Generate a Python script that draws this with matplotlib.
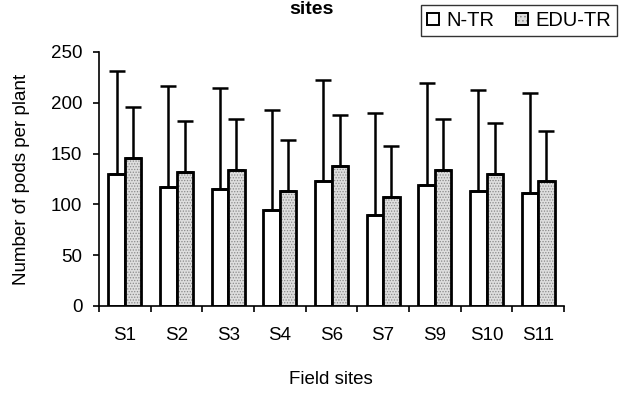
import numpy as np
import matplotlib
matplotlib.use("Agg")
import matplotlib.pyplot as plt
from matplotlib.patches import Patch
from matplotlib.legend_handler import HandlerTuple

# Pods per plant at each field site (mean and standard deviation)
sites = ["S1", "S2", "S3", "S4", "S6", "S7", "S9", "S10", "S11"]
ntr_mean = [130, 117, 115, 94, 123, 90, 119, 113, 111]
ntr_sd = [101, 100, 100, 99, 99, 100, 100, 100, 99]
edu_mean = [146, 132, 134, 113, 138, 107, 134, 130, 123]
edu_sd = [50, 50, 50, 50, 50, 50, 50, 50, 49]
series_names = ["N-TR", "EDU-TR"]
y_ticks = [0, 50, 100, 150, 200, 250]

plt.rcParams["font.family"] = ["Liberation Sans", "DejaVu Sans"]
plt.rcParams["hatch.linewidth"] = 0.6

W, H = 620, 394
fig = plt.figure(figsize=(W / 100, H / 100), dpi=100)
ax = fig.add_axes([99 / W, 1 - 306 / H, (564 - 99) / W, (306 - 52) / H])

n = len(sites)
centers = np.arange(n) + 0.5
bw = 0.32
stipple_face = "#dedede"
stipple_dots = "#8a8a8a"
edge_lw = 2.0

# N-TR: plain white bars
ax.bar(centers - bw / 2, ntr_mean, bw, color="white", edgecolor="black",
       linewidth=edge_lw, zorder=2)
# EDU-TR: stippled fill, then a black outline on top
ax.bar(centers + bw / 2, edu_mean, bw, color=stipple_face, edgecolor=stipple_dots,
       hatch="......", linewidth=0, zorder=2)
ax.bar(centers + bw / 2, edu_mean, bw, fill=False, edgecolor="black",
       linewidth=edge_lw, zorder=3)

# Upper error bars only
err_kw = dict(fmt="none", ecolor="black", elinewidth=1.8, capsize=5.5,
              capthick=1.8, zorder=4)
ax.errorbar(centers - bw / 2, ntr_mean, yerr=[np.zeros(n), ntr_sd], **err_kw)
ax.errorbar(centers + bw / 2, edu_mean, yerr=[np.zeros(n), edu_sd], **err_kw)

ax.set_xlim(0, n)
ax.set_ylim(0, 250)
ax.set_yticks(y_ticks)
ax.set_xticks(np.arange(n + 1))
ax.set_xticklabels([])
ax.set_xticks(centers, sites, minor=True)

for side in ("top", "right"):
    ax.spines[side].set_visible(False)
for side in ("left", "bottom"):
    ax.spines[side].set_linewidth(1.2)

ax.tick_params(axis="y", which="major", direction="out", length=4, width=1.2,
               pad=8, labelsize=13.5)
ax.tick_params(axis="x", which="major", direction="out", length=4.5, width=1.2)
ax.tick_params(axis="x", which="minor", length=0, pad=15, labelsize=13.5)

fig.text(22 / W, 1 - 179 / H, "Number of pods per plant", rotation=90,
         ha="center", va="center", fontsize=13.5)
fig.text(331 / W, 1 - 380 / H, "Field sites", ha="center", va="center",
         fontsize=13.5)
fig.text(311 / W, 1 - 10 / H, "sites", ha="center", va="center",
         fontsize=14, fontweight="bold")

h_ntr = Patch(facecolor="white", edgecolor="black", linewidth=1.4)
h_edu = (Patch(facecolor=stipple_face, edgecolor=stipple_dots, hatch="....",
               linewidth=0),
         Patch(fill=False, edgecolor="black", linewidth=1.4))
leg = fig.legend([h_ntr, h_edu], series_names, loc="upper left",
                 bbox_to_anchor=(421 / W, 1 - 5 / H), ncol=2, fontsize=14.5,
                 frameon=True, fancybox=False, borderpad=0.3,
                 handlelength=0.6, handleheight=0.6, handletextpad=0.35,
                 columnspacing=1.1, borderaxespad=0,
                 handler_map={tuple: HandlerTuple(ndivide=1, pad=0)})
leg.get_frame().set_edgecolor("black")
leg.get_frame().set_linewidth(1.0)

fig.savefig("out.png", dpi=100)
